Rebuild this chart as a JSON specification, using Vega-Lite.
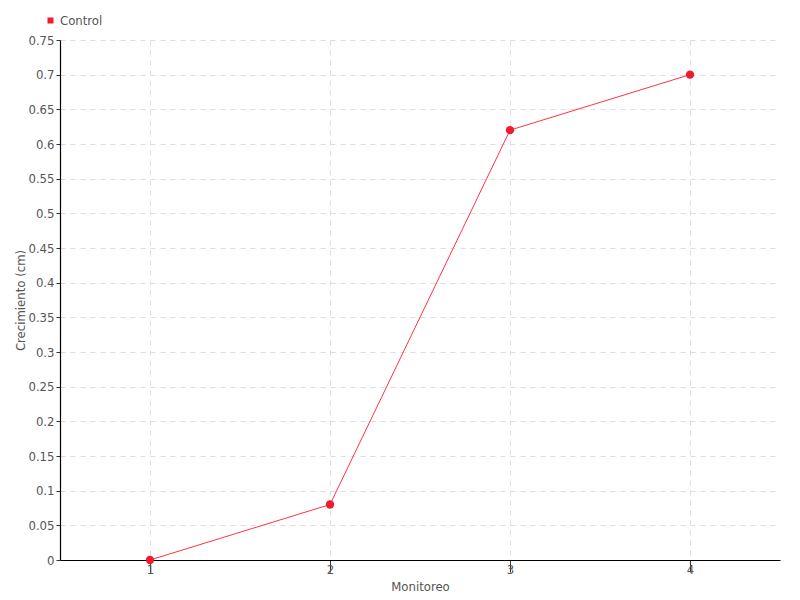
{
  "$schema": "https://vega.github.io/schema/vega-lite/v6.json",
  "autosize": "none",
  "width": 720,
  "height": 520,
  "padding": {"left": 60, "top": 40, "right": 20, "bottom": 40},
  "background": "white",
  "config": {
    "font": "DejaVu Sans Condensed",
    "view": {"stroke": null},
    "axis": {
      "labelColor": "#555555",
      "titleColor": "#555555",
      "labelFont": "DejaVu Sans Condensed",
      "titleFont": "DejaVu Sans Condensed",
      "labelFontSize": 13,
      "titleFontSize": 13,
      "titleFontWeight": "normal",
      "domainColor": "#000000",
      "domainWidth": 1.2,
      "tickColor": "#333333",
      "gridColor": "#dddddd",
      "gridDash": [5, 5],
      "gridWidth": 1
    }
  },
  "data": {
    "values": [
      {"monitoreo": "1", "crecimiento": 0, "serie": "Control"},
      {"monitoreo": "2", "crecimiento": 0.08, "serie": "Control"},
      {"monitoreo": "3", "crecimiento": 0.62, "serie": "Control"},
      {"monitoreo": "4", "crecimiento": 0.70, "serie": "Control"}
    ]
  },
  "encoding": {
    "x": {
      "field": "monitoreo",
      "type": "ordinal",
      "scale": {"type": "point", "padding": 0.5},
      "axis": {
        "title": "Monitoreo",
        "labelAngle": 0,
        "grid": true,
        "tickSize": 12,
        "labelPadding": -9,
        "titleY": 20
      }
    },
    "y": {
      "field": "crecimiento",
      "type": "quantitative",
      "scale": {"domain": [0, 0.75], "nice": false},
      "axis": {
        "title": "Crecimiento (cm)",
        "values": [0, 0.05, 0.1, 0.15, 0.2, 0.25, 0.3, 0.35, 0.4, 0.45, 0.5, 0.55, 0.6, 0.65, 0.7, 0.75],
        "format": "~g",
        "tickSize": 4,
        "labelPadding": 2,
        "titleX": -33
      }
    },
    "color": {
      "field": "serie",
      "type": "nominal",
      "scale": {"range": ["#ee1c2e"]},
      "legend": {
        "title": null,
        "orient": "none",
        "legendX": -16,
        "legendY": -26,
        "symbolType": "square",
        "symbolSize": 36,
        "labelFontSize": 13,
        "labelColor": "#555555",
        "labelFont": "DejaVu Sans Condensed",
        "labelOffset": 3
      }
    }
  },
  "layer": [
    {"mark": {"type": "line", "strokeWidth": 1, "color": "#ff3347"}, "encoding": {"color": {"value": "#ff3347"}}},
    {"mark": {"type": "point", "filled": true, "size": 70, "opacity": 1}}
  ]
}
